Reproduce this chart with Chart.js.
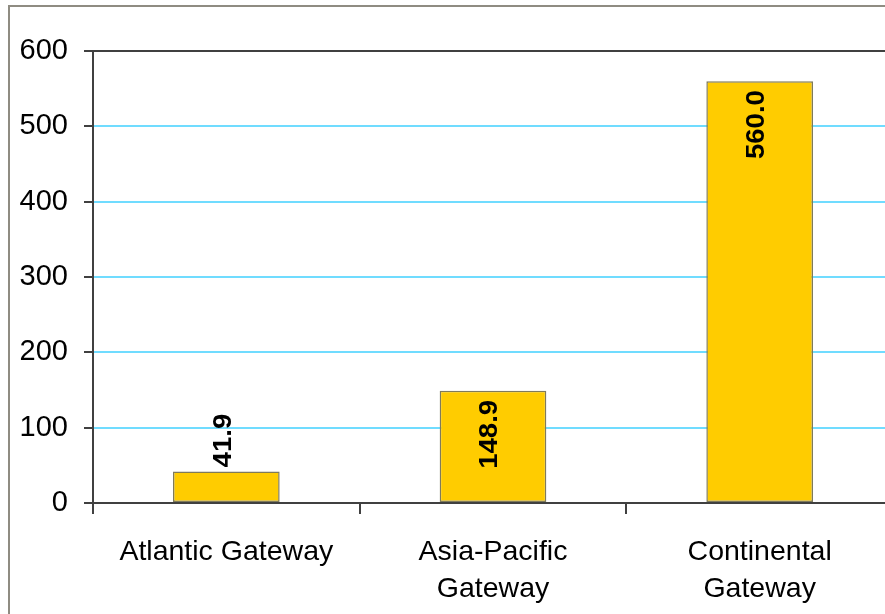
<!DOCTYPE html>
<html>
<head>
<meta charset="utf-8">
<script src="https://cdn.jsdelivr.net/npm/chart.js@4"></script>
<style>
  html, body { margin: 0; padding: 0; background: #fff; overflow: hidden; }
  #wrap { position: relative; width: 885px; height: 614px; overflow: hidden; }
  #frame { position: absolute; left: 8px; top: 5px; width: 900px; height: 700px;
           border-left: 2px solid #8f8c82; border-top: 2px solid #8f8c82; }
  canvas { position: absolute; left: 0; top: 0; }
</style>
</head>
<body>
<div id="wrap">
  <div id="frame"></div>
  <canvas id="chart" width="900" height="614" style="width:900px;height:614px"></canvas>
</div>
<script>
const categories = ["Atlantic Gateway", ["Asia-Pacific", "Gateway"], ["Continental", "Gateway"]];
const values = [41.9, 148.9, 560.0];
const yTicks = [0, 100, 200, 300, 400, 500, 600];

const fontFamily = "'Liberation Sans', Arial, sans-serif";

// rotated value labels, inside the bar top when they fit, above otherwise
const barLabels = {
  id: "barLabels",
  afterDatasetsDraw(chart) {
    const ctx = chart.ctx;
    const meta = chart.getDatasetMeta(0);
    const sx = 1.06;
    ctx.save();
    ctx.font = "bold 26px " + fontFamily;
    ctx.fillStyle = "#000";
    ctx.textBaseline = "middle";
    meta.data.forEach((bar, i) => {
      const txt = values[i].toFixed(1);
      const len = ctx.measureText(txt).width * sx;
      const h = bar.base - bar.y;
      ctx.save();
      ctx.translate(bar.x - 3, bar.y);
      ctx.rotate(-Math.PI / 2);
      ctx.scale(sx, 1);
      if (len + 16 < h) {
        ctx.textAlign = "right";
        ctx.fillText(txt, -9 / sx, 0);
      } else {
        ctx.textAlign = "left";
        ctx.fillText(txt, 4 / sx, 0);
      }
      ctx.restore();
    });
    ctx.restore();
  }
};

new Chart(document.getElementById("chart"), {
  type: "bar",
  data: {
    labels: categories,
    datasets: [{
      data: values,
      backgroundColor: "#ffcc00",
      borderColor: "#7f7a5a",
      borderWidth: 1.5,
      borderSkipped: false,
      barPercentage: 0.4,
      categoryPercentage: 1
    }]
  },
  options: {
    responsive: false,
    animation: false,
    layout: { padding: { top: 51, right: 7, left: 0, bottom: 0 } },
    plugins: { legend: { display: false }, tooltip: { enabled: false } },
    scales: {
      x: {
        offset: true,
        afterFit(scale) { scale.height = 111; },
        grid: {
          offset: true,
          drawOnChartArea: false,
          tickLength: 11,
          tickColor: "#404040",
          lineWidth: 2
        },
        border: { color: "#404040", width: 2 },
        ticks: {
          color: "#000",
          padding: 19,
          maxRotation: 0,
          autoSkip: false,
          font: { family: fontFamily, size: 28.5, lineHeight: 1.32 }
        }
      },
      y: {
        min: 0,
        max: 600,
        afterFit(scale) { scale.width = 93; },
        afterBuildTicks(scale) { scale.ticks = yTicks.map(v => ({ value: v })); },
        grid: {
          color: ctx => ctx.tick && ctx.tick.value === 600 ? "#404040" : "#70dcff",
          lineWidth: 2,
          tickLength: 9,
          tickColor: "#404040"
        },
        border: { color: "#404040", width: 2 },
        ticks: {
          color: "#000",
          padding: 16,
          font: { family: fontFamily, size: 29 }
        }
      }
    }
  },
  plugins: [barLabels]
});
</script>
</body>
</html>
